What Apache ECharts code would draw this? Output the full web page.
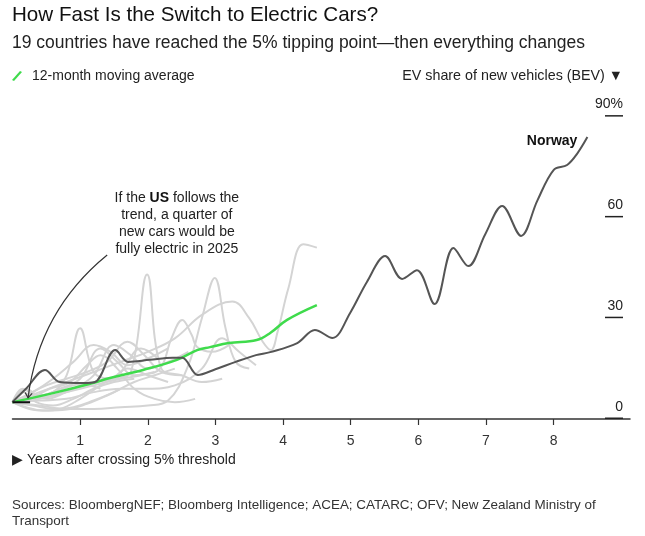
<!DOCTYPE html>
<html>
<head>
<meta charset="utf-8">
<style>
html,body{margin:0;padding:0;background:#fff;}
#chart{width:645px;height:536px;}
</style>
<script src="https://cdn.jsdelivr.net/npm/echarts@6.0.0/dist/echarts.min.js"></script>
</head>
<body>
<div id="chart"></div>
<script>
// ---- data (years after crossing 5%, BEV share %) ----
var xTickLabels = [1, 2, 3, 4, 5, 6, 7, 8];
var yTickLabels = [0, 30, 60, 90];

var norway = [[0,5.1],[0.2,9],[0.48,14.6],[0.7,11],[1.04,10.7],[1.22,11],[1.52,20.5],[1.71,17],[2.03,17.6],[2.37,18.2],[2.51,18.2],[2.74,13.1],[3.0,14.8],[3.3,17],[3.6,19],[3.81,19.9],[4.21,22.6],[4.47,26.5],[4.73,24.1],[4.99,31.5],[5.24,40.8],[5.51,48.5],[5.76,41.7],[5.98,44.3],[6.24,34.2],[6.52,50.9],[6.74,45.5],[6.99,55],[7.24,63.4],[7.52,54.5],[7.76,65],[8.0,74.1],[8.2,75.6],[8.35,79],[8.5,83.9]];
var movingAverage = [[0,5],[0.6,7.7],[1.19,10.7],[1.44,12.2],[1.93,14.6],[2.43,17.6],[2.73,20.5],[2.92,21.4],[3.2,22.6],[3.61,23.5],[3.81,25.6],[4.06,29.5],[4.5,33.9]];
var us = [[0,5],[0.26,5]];

var g1 = [[0,5],[0.15,9],[0.35,7],[0.6,8],[0.8,13],[1.0,27],[1.2,14],[1.45,12],[1.7,15],[2.0,13],[2.3,11]];
var g2 = [[0,5],[0.3,6],[0.6,8],[0.9,10],[1.2,11],[1.5,12],[1.75,14],[1.99,43],[2.2,15],[2.5,13],[2.8,11],[3.1,12]];
var g3 = [[0,5],[0.4,4],[0.8,3],[1.2,3],[1.6,3.5],[2.0,4],[2.3,5.5],[2.6,16],[2.8,30],[2.99,42],[3.15,27],[3.3,17],[3.5,15]];
var g4 = [[0,5],[0.4,8],[0.8,11],[1.2,14],[1.6,17],[2.0,20],[2.4,24],[2.8,31],[3.25,35],[3.5,30],[3.7,23],[3.82,20.5],[3.92,26],[4.08,39],[4.3,52],[4.5,51]];
var g5 = [[0,5],[0.4,6],[0.8,8],[1.2,10],[1.6,12],[1.9,13],[2.18,15],[2.35,24],[2.51,29.5],[2.65,25],[2.73,21.4],[2.95,20],[3.2,22]];
var g6 = [[0,5],[0.3,8],[0.6,12],[0.9,17],[1.2,22],[1.45,20],[1.7,16],[2.0,18],[2.3,21]];
var g7 = [[0,5],[0.2,7],[0.5,10],[0.8,12],[1.1,14],[1.4,17],[1.7,23],[1.95,19],[2.2,14],[2.5,13]];
var g8 = [[0,5],[0.3,4],[0.6,3],[0.9,3.5],[1.2,5.5],[1.5,8],[1.8,11],[2.1,13],[2.4,15]];
var g9 = [[0,5],[0.25,3],[0.5,2.5],[0.8,2.8],[1.1,4.5],[1.4,7],[1.6,9]];
var g10 = [[0,5],[0.2,9],[0.4,7],[0.7,9],[1.0,12],[1.3,21],[1.55,17],[1.8,13],[2.1,14]];
var g11 = [[0,5],[0.3,6],[0.6,7],[0.9,9],[1.2,13],[1.5,22],[1.75,19],[2.0,15],[2.3,17],[2.6,20]];
var g12 = [[0,5],[0.4,5.5],[0.8,6],[1.2,8],[1.6,9],[2.0,9],[2.4,10],[2.8,15],[3.1,24],[3.35,20],[3.6,16]];
var g13 = [[0,5],[0.3,7],[0.5,6],[0.8,8],[1.1,10],[1.3,9]];
var g14 = [[0,5],[0.15,8],[0.35,5],[0.6,4],[0.9,6],[1.2,9],[1.5,11],[1.8,12]];
var g15 = [[0,5],[0.2,3.5],[0.45,2.5],[0.7,3],[1.0,6],[1.3,10],[1.6,14],[1.9,21],[2.15,18]];
var g16 = [[0,5],[0.25,6],[0.55,9],[0.85,11],[1.1,16],[1.3,19],[1.55,15],[1.8,9],[2.1,6],[2.4,5],[2.7,6]];
var otherCountries = [g1,g2,g3,g4,g5,g6,g7,g8,g9,g10,g11,g12,g13,g14,g15,g16];

// annotation anchor points (data coords)
var arrowFrom = [1.40, 48.8];
var arrowTo = [0.23, 6.3];
var arrowCurveness = -0.2;
var noteAt = [2.43, 58.0];
var norwayLabelAt = norway[norway.length - 1];

var FONT = "'Liberation Sans', Arial, sans-serif";
var chart = echarts.init(document.getElementById('chart'), null, {renderer: 'canvas'});

var series = [];
otherCountries.forEach(function (d, i) {
  series.push({
    name: 'country' + i, type: 'line', data: d, smooth: 0.4, symbol: 'none',
    lineStyle: {color: '#d4d4d4', width: 2}, silent: true, z: 1
  });
});
series.push({
  name: '12-month moving average', type: 'line', data: movingAverage, smooth: 0.4, symbol: 'none',
  itemStyle: {color: '#3fdb4c'}, lineStyle: {color: '#3fdb4c', width: 2.5}, z: 3
});
series.push({
  name: 'Norway', type: 'line', data: norway, smooth: 0.35, symbol: 'none',
  lineStyle: {color: '#555555', width: 2}, z: 4,
  markPoint: {
    symbol: 'circle', symbolSize: 0, silent: true,
    label: {show: true, position: 'left', distance: 10, offset: [0, 4], formatter: 'Norway',
      fontFamily: FONT, fontSize: 14, fontWeight: 'bold', color: '#111'},
    data: [{coord: norwayLabelAt}]
  }
});
series.push({
  name: 'US', type: 'line', data: us, symbol: 'none',
  lineStyle: {color: '#111', width: 2}, z: 5,
  markPoint: {
    symbol: 'circle', symbolSize: 0, silent: true,
    label: {show: true, position: 'inside', align: 'center', verticalAlign: 'middle',
      fontFamily: FONT, fontSize: 14, lineHeight: 17, color: '#222',
      formatter: 'If the {b|US} follows the\ntrend, a quarter of\nnew cars would be\nfully electric in 2025',
      rich: {b: {fontFamily: FONT, fontSize: 14, fontWeight: 'bold', color: '#111', lineHeight: 17}}},
    data: [{coord: noteAt}]
  }
});

chart.setOption({
  animation: false,
  backgroundColor: '#fff',
  textStyle: {fontFamily: FONT},
  title: [
    {text: 'How Fast Is the Switch to Electric Cars?', left: 12, top: 5, padding: 0,
      textStyle: {fontFamily: FONT, fontSize: 20.6, fontWeight: 'normal', color: '#111'}},
    {text: '19 countries have reached the 5% tipping point\u2014then everything changes', left: 12, top: 34, padding: 0,
      textStyle: {fontFamily: FONT, fontSize: 17.5, fontWeight: 'normal', color: '#222'}},
    {text: 'EV share of new vehicles (BEV) \u25BC', right: 22, top: 69, padding: 0,
      textStyle: {fontFamily: FONT, fontSize: 14.3, fontWeight: 'normal', color: '#222'}},
    {text: '\u25B6 Years after crossing 5% threshold', left: 12, top: 453, padding: 0,
      textStyle: {fontFamily: FONT, fontSize: 14, fontWeight: 'normal', color: '#222'}},
    {text: 'Sources: BloombergNEF; Bloomberg Intelligence; ACEA; CATARC; OFV; New Zealand Ministry of\nTransport', left: 12, top: 497, padding: 0,
      textStyle: {fontFamily: FONT, fontSize: 13.45, fontWeight: 'normal', color: '#333', lineHeight: 16}}
  ],
  legend: {
    data: ['12-month moving average'], left: 12, top: 69, padding: 0,
    itemWidth: 10, itemHeight: 12, selectedMode: false,
    icon: 'path://M0,9 L8,0 L10,1.2 L2,10.2 Z',
    textStyle: {fontFamily: FONT, fontSize: 14, color: '#222', padding: [0, 0, 0, 5]}
  },
  grid: {left: 12.5, right: 15, top: 116.6, bottom: 117, containLabel: false},
  xAxis: {
    type: 'value', min: 0, max: 9.13, interval: 1,
    axisLine: {show: true, lineStyle: {color: '#333', width: 1.5}},
    axisTick: {show: true, length: 6, lineStyle: {color: '#333', width: 1.2}, customValues: xTickLabels},
    axisLabel: {show: true, margin: 15, fontFamily: FONT, fontSize: 14, color: '#333', customValues: xTickLabels},
    splitLine: {show: false}
  },
  yAxis: {
    type: 'value', min: yTickLabels[0], max: yTickLabels[yTickLabels.length - 1], interval: 30,
    position: 'right',
    axisLine: {show: false},
    axisTick: {show: false},
    axisLabel: {show: true, inside: true, margin: 7, align: 'right', verticalAlign: 'bottom',
      formatter: function (v) { return '{t|' + (v === 90 ? '90%' : String(v)) + '}\n{u| }'; },
      rich: {
        t: {fontFamily: FONT, fontSize: 14, color: '#222', lineHeight: 21, align: 'right'},
        u: {width: 18, height: 1.5, lineHeight: 1.5, fontSize: 1, backgroundColor: '#222', align: 'right'}
      }},
    splitLine: {show: false}
  },
  series: series
});

// curved annotation arrow, positioned through the chart's own scales
(function () {
  var p0 = chart.convertToPixel({gridIndex: 0}, arrowFrom);
  var p2 = chart.convertToPixel({gridIndex: 0}, arrowTo);
  var c = arrowCurveness;
  var cp = [(p0[0] + p2[0]) / 2 - (p0[1] - p2[1]) * c, (p0[1] + p2[1]) / 2 - (p2[0] - p0[0]) * c];
  var dx = p2[0] - cp[0], dy = p2[1] - cp[1];
  var len = Math.sqrt(dx * dx + dy * dy);
  dx /= len; dy /= len;
  var ah = 6, ang = Math.PI / 5;
  function rot(x, y, a) { return [x * Math.cos(a) - y * Math.sin(a), x * Math.sin(a) + y * Math.cos(a)]; }
  var l = rot(-dx, -dy, ang), r = rot(-dx, -dy, -ang);
  chart.setOption({
    graphic: [
      {type: 'bezierCurve', silent: true, z: 10,
        shape: {x1: p0[0], y1: p0[1], x2: p2[0], y2: p2[1], cpx1: cp[0], cpy1: cp[1]},
        style: {stroke: '#333', lineWidth: 1.2, fill: null}},
      {type: 'polyline', silent: true, z: 10,
        shape: {points: [[p2[0] + l[0] * ah, p2[1] + l[1] * ah], p2, [p2[0] + r[0] * ah, p2[1] + r[1] * ah]]},
        style: {stroke: '#333', lineWidth: 1.2, fill: null}}
    ]
  });
})();
</script>
</body>
</html>
